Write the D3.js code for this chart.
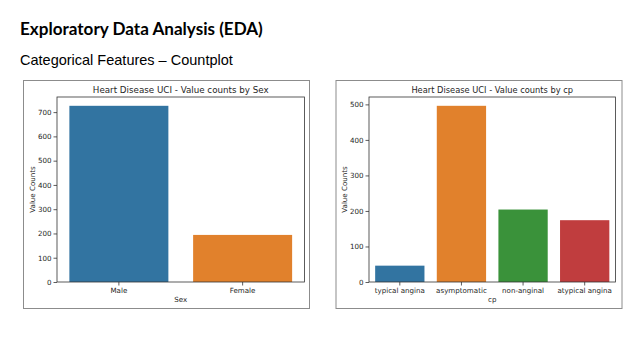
<!DOCTYPE html>
<html><head><meta charset="utf-8">
<script src="https://cdn.jsdelivr.net/npm/d3@7"></script>
<style>body{margin:0;background:#fff}svg{display:block}</style>
</head><body>
<script>
const sexCategories = ["Male", "Female"];
const sexCounts = [726, 194];
const cpCategories = ["typical angina", "asymptomatic", "non-anginal", "atypical angina"];
const cpCounts = [46, 496, 204, 174];
const sexTicks = [0, 100, 200, 300, 400, 500, 600, 700];
const cpTicks = [0, 100, 200, 300, 400, 500];
const palette = ["#3274a1", "#e1812c", "#3a923a", "#c03d3e"];

const W = 638, H = 359;
const svg = d3.select("body").append("svg").attr("width", W).attr("height", H);
svg.append("rect").attr("width", W).attr("height", H).attr("fill", "#fff");

const t1 = svg.append("text").attr("x", 20).attr("y", 35)
  .attr("font-family", "Lato, 'Open Sans', sans-serif").attr("font-weight", "bold")
  .attr("font-size", 18).attr("fill", "#000").text("Exploratory Data Analysis (EDA)");
let w1 = t1.node().getComputedTextLength();
t1.attr("font-size", 18 * 243 / w1);
const t2 = svg.append("text").attr("x", 20).attr("y", 65)
  .attr("font-family", "'Liberation Sans', Arial, sans-serif")
  .attr("font-size", 14).attr("fill", "#000").text("Categorical Features \u2013 Countplot");
let w2 = t2.node().getComputedTextLength();
t2.attr("font-size", 14 * 213 / w2);

function panel(cfg) {
  const g = svg.append("g");
  g.append("rect").attr("x", cfg.fx + 0.5).attr("y", 80.5).attr("width", cfg.fw).attr("height", 228)
    .attr("fill", "#fff").attr("stroke", "#8c8c8c").attr("stroke-width", 1);
  const x = d3.scaleBand().domain(cfg.cats).range([cfg.left, cfg.right]).paddingInner(0.2).paddingOuter(0.1);
  const y = d3.scaleLinear().domain([0, d3.max(cfg.vals) * 1.05]).range([282, 97]);
  g.selectAll("rect.bar").data(cfg.vals).join("rect").attr("class", "bar")
    .attr("x", (d, i) => x(cfg.cats[i])).attr("width", x.bandwidth())
    .attr("y", d => y(d)).attr("height", d => y(0) - y(d))
    .attr("fill", (d, i) => cfg.colors[i]);
  const ff = "'DejaVu Sans', sans-serif";
  const ya = g.append("g").attr("transform", `translate(${cfg.left},0)`)
    .call(d3.axisLeft(y).tickValues(cfg.ticks).tickSize(3.5).tickPadding(2).tickFormat(d3.format("d")));
  const xa = g.append("g").attr("transform", `translate(0,282)`)
    .call(d3.axisBottom(x).tickSize(3.5).tickPadding(2));
  [ya, xa].forEach(a => {
    a.select(".domain").remove();
    a.selectAll("line").attr("stroke", "#333").attr("stroke-width", 0.8);
    a.selectAll("text").attr("font-family", ff).attr("font-size", 7.1).attr("fill", "#262626");
  });
  g.append("rect").attr("x", cfg.left).attr("y", 97).attr("width", cfg.right - cfg.left).attr("height", 185)
    .attr("fill", "none").attr("stroke", "#333").attr("stroke-width", 0.8);
  const tt = g.append("text").attr("x", (cfg.left + cfg.right) / 2).attr("y", 93).attr("text-anchor", "middle")
    .attr("font-family", ff).attr("font-size", 8).attr("fill", "#262626").text(cfg.title);
  tt.attr("font-size", 8 * cfg.titleW / tt.node().getComputedTextLength());
  g.append("text").attr("x", (cfg.left + cfg.right) / 2).attr("y", 302).attr("text-anchor", "middle")
    .attr("font-family", ff).attr("font-size", 7.1).attr("fill", "#262626").text(cfg.xlabel);
  g.append("text").attr("transform", `translate(${cfg.ylx},${(97 + 282) / 2}) rotate(-90)`).attr("text-anchor", "middle")
    .attr("font-family", ff).attr("font-size", 7.1).attr("fill", "#262626").text("Value Counts");
}

panel({fx: 23, fw: 286, left: 57, right: 304.5, cats: sexCategories, vals: sexCounts, ticks: sexTicks,
  colors: palette.slice(0, 2), title: "Heart Disease UCI - Value counts by Sex", xlabel: "Sex", ylx: 35, titleW: 176});
panel({fx: 335.5, fw: 286, left: 369, right: 615.5, cats: cpCategories, vals: cpCounts, ticks: cpTicks,
  colors: palette, title: "Heart Disease UCI - Value counts by cp", xlabel: "cp", ylx: 347, titleW: 162});
</script>
</body></html>
